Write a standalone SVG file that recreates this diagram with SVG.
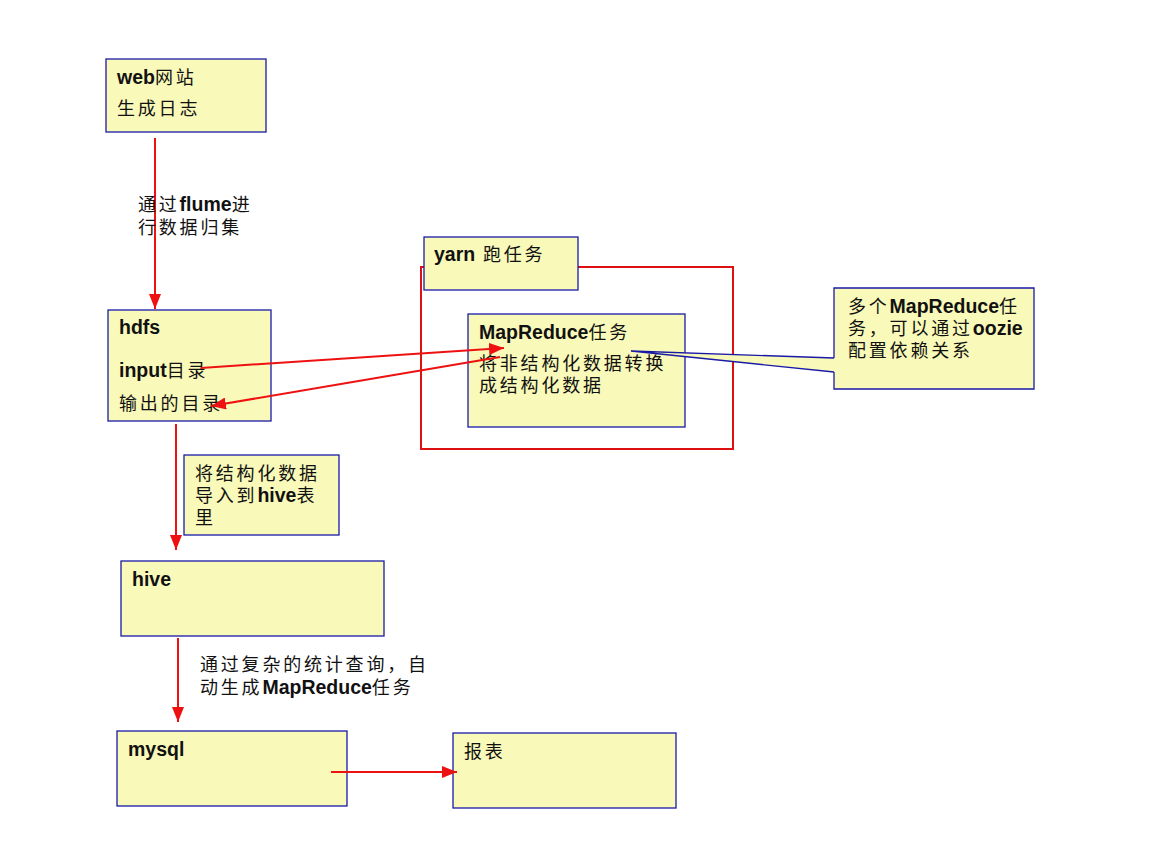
<svg xmlns="http://www.w3.org/2000/svg" width="1152" height="860" viewBox="0 0 1152 860">
<style>
.box{fill:#f9f9b9;stroke:#1a1aa8;stroke-width:1.3}
.t{font-family:"Liberation Sans","Noto Sans CJK SC",sans-serif;font-size:18px;letter-spacing:2.8px;fill:#111}
.b{font-weight:bold;font-size:19.5px;letter-spacing:0}
.arr{stroke:#ee1111;stroke-width:2;fill:none;marker-end:url(#ah)}
</style>
<defs>
<marker id="ah" markerUnits="userSpaceOnUse" markerWidth="16" markerHeight="12" refX="15" refY="6" orient="auto">
<path d="M0,0 L15,6 L0,12 z" fill="#ee1111"/>
</marker>
</defs>
<rect width="1152" height="860" fill="#fff"/>

<g id="yarn-frame">
<rect x="421" y="267" width="312" height="182" fill="none" stroke="#dd1111" stroke-width="2"/>
</g>

<g id="web">
<rect class="box" x="106" y="59" width="160" height="73"/>
<text class="t" x="117" y="84"><tspan class="b">web</tspan>网站</text>
<text class="t" x="117" y="115">生成日志</text>
</g>

<g id="hdfs">
<rect class="box" x="108" y="310" width="163" height="111"/>
<text class="t" x="119" y="334"><tspan class="b">hdfs</tspan></text>
<text class="t" x="119" y="377"><tspan class="b">input</tspan>目录</text>
<text class="t" x="119" y="410">输出的目录</text>
</g>

<g id="yarn">
<rect class="box" x="424" y="237" width="154" height="53"/>
<text class="t" x="434" y="261"><tspan class="b">yarn</tspan> 跑任务</text>
</g>

<g id="mapreduce">
<rect class="box" x="468" y="314" width="217" height="113"/>
<text class="t" x="479" y="339"><tspan class="b">MapReduce</tspan>任务</text>
<text class="t" x="479" y="370">将非结构化数据转换</text>
<text class="t" x="479" y="392">成结构化数据</text>
</g>

<g id="oozie-note">
<path d="M834,288 L1034,288 L1034,389 L834,389 L834,372 L631,351 L834,358 Z" fill="#f9f9b9" stroke="none"/>
<path d="M834,358 L834,288 L1034,288 L1034,389 L834,389 L834,372" fill="none" stroke="#1a1aa8" stroke-width="1.3"/>
<path d="M834,358 L631,351 L834,372" fill="none" stroke="#1a1aa8" stroke-width="1.3"/>
<text class="t" x="848" y="313">多个<tspan class="b">MapReduce</tspan>任</text>
<text class="t" x="848" y="335">务，可以通过<tspan class="b">oozie</tspan></text>
<text class="t" x="848" y="357">配置依赖关系</text>
</g>

<g id="import-note">
<rect class="box" x="184" y="455" width="155" height="80"/>
<text class="t" x="195" y="480">将结构化数据</text>
<text class="t" x="195" y="502">导入到<tspan class="b">hive</tspan>表</text>
<text class="t" x="195" y="524">里</text>
</g>

<g id="hive">
<rect class="box" x="121" y="561" width="263" height="75"/>
<text class="t" x="132" y="586"><tspan class="b">hive</tspan></text>
</g>

<g id="mysql">
<rect class="box" x="117" y="731" width="230" height="75"/>
<text class="t" x="128" y="756"><tspan class="b">mysql</tspan></text>
</g>

<g id="report">
<rect class="box" x="453" y="733" width="223" height="75"/>
<text class="t" x="464" y="758">报表</text>
</g>

<g id="connectors">
<line class="arr" x1="155" y1="138" x2="155" y2="309"/>
<line class="arr" x1="201" y1="368" x2="504" y2="348"/>
<line class="arr" x1="500" y1="357" x2="211" y2="406"/>
<line class="arr" x1="176" y1="424" x2="176" y2="550"/>
<line class="arr" x1="178" y1="638" x2="178" y2="722"/>
<line class="arr" x1="331" y1="772" x2="457" y2="772"/>
</g>

<g id="labels">
<text class="t" x="138" y="211">通过<tspan class="b">flume</tspan>进</text>
<text class="t" x="138" y="234">行数据归集</text>
<text class="t" x="200" y="671">通过复杂的统计查询，自</text>
<text class="t" x="200" y="694">动生成<tspan class="b">MapReduce</tspan>任务</text>
</g>
</svg>
